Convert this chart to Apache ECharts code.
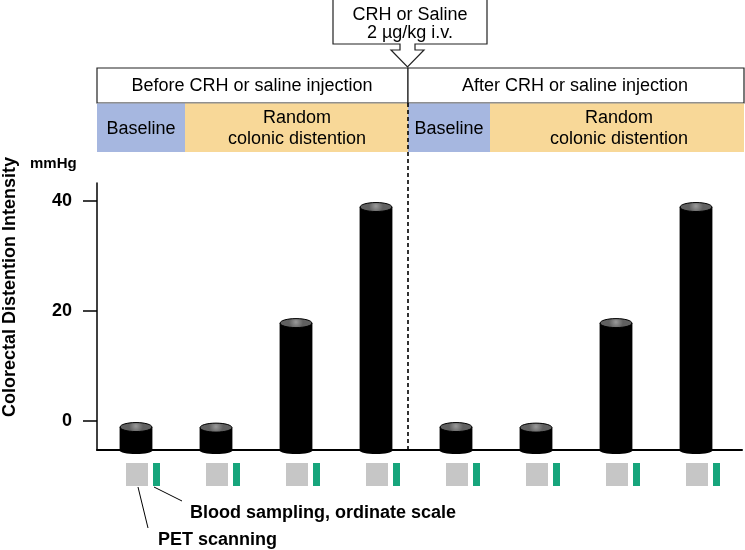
<!DOCTYPE html>
<html>
<head>
<meta charset="utf-8">
<script src="https://cdn.jsdelivr.net/npm/echarts@6/dist/echarts.min.js"></script>
<style>html,body{margin:0;padding:0;background:#fff;}#c{width:745px;height:550px;}</style>
</head>
<body>
<div id="c"></div>
<script>
// ---- data ----
const categories = ['Before 1', 'Before 2', 'Before 3', 'Before 4', 'After 1', 'After 2', 'After 3', 'After 4'];
const xPositions = [1, 2, 3, 4, 5, 6, 7, 8];
const intensityValues = [-1.1, -1.2, 17.8, 38.9, -1.1, -1.2, 17.8, 38.9];
const yTickLabels = [0, 20, 40];

const FONT = '"Liberation Sans", Arial, Helvetica, sans-serif';
const yMin = -5.27, yMax = 43.27;
const xMin = 0.5125, xMax = 8.575;
const barW = 0.41;

const seriesData = xPositions.map((x, i) => [x, intensityValues[i], categories[i]]);

const chart = echarts.init(document.getElementById('c'), null, {renderer: 'canvas'});

function txt(x, y, text, size, weight, align, extra) {
  return Object.assign({
    type: 'text', x: x, y: y,
    style: {text: text, fill: '#000', font: (weight || 'normal') + ' ' + size + 'px ' + FONT,
            textAlign: align || 'center', textVerticalAlign: 'middle'}
  }, extra || {});
}

const graphics = [
  // top box
  {type: 'rect', shape: {x: 333, y: -1, width: 154, height: 45}, style: {fill: '#fff', stroke: '#222', lineWidth: 1.2}},
  {type: 'line', shape: {x1: 400.6, y1: 44, x2: 414.4, y2: 44}, style: {stroke: '#fff', lineWidth: 2}, z: 10},
  {type: 'polygon', shape: {points: [[400, 44], [400, 50], [391, 50], [407.5, 67], [424, 50], [415, 50], [415, 44]]}, style: {fill: '#fff'}, z: 10},
  {type: 'polyline', shape: {points: [[400, 44], [400, 50], [391, 50], [407.5, 67], [424, 50], [415, 50], [415, 44]]}, style: {stroke: '#222', lineWidth: 1.2, fill: null}, z: 11},
  txt(410, 15, 'CRH or Saline', 18),
  txt(410, 33, '2 µg/kg i.v.', 18),
  // header boxes
  {type: 'rect', shape: {x: 97, y: 68, width: 311, height: 35}, style: {fill: '#fff', stroke: '#222', lineWidth: 1.2}},
  {type: 'rect', shape: {x: 408, y: 68, width: 336, height: 35}, style: {fill: '#fff', stroke: '#222', lineWidth: 1.2}},
  txt(252, 86, 'Before CRH or saline injection', 18),
  txt(575, 86, 'After CRH or saline injection', 18),
  // colored phase bands
  {type: 'rect', shape: {x: 97, y: 103.6, width: 88, height: 48.4}, style: {fill: '#a6b7e0'}},
  {type: 'rect', shape: {x: 185, y: 103.6, width: 223, height: 48.4}, style: {fill: '#f8d898'}},
  {type: 'rect', shape: {x: 408, y: 103.6, width: 82, height: 48.4}, style: {fill: '#a6b7e0'}},
  {type: 'rect', shape: {x: 490, y: 103.6, width: 254, height: 48.4}, style: {fill: '#f8d898'}},
  txt(141, 129, 'Baseline', 18),
  txt(297, 118, 'Random', 18),
  txt(297, 139, 'colonic distention', 18),
  txt(449, 129, 'Baseline', 18),
  txt(619, 118, 'Random', 18),
  txt(619, 139, 'colonic distention', 18),
  // dashed divider
  {type: 'line', shape: {x1: 408, y1: 103, x2: 408, y2: 450}, style: {stroke: '#000', lineWidth: 1.6, lineDash: [4, 3]}, z: 5},
  // unit and axis title
  txt(30, 164, 'mmHg', 15, 'bold', 'left'),
  txt(10, 287, 'Colorectal Distention Intensity', 18, 'bold', 'center', {rotation: Math.PI / 2}),
  // annotations
  {type: 'line', shape: {x1: 138, y1: 487, x2: 148, y2: 528}, style: {stroke: '#000', lineWidth: 1}},
  {type: 'line', shape: {x1: 154, y1: 487, x2: 182, y2: 501}, style: {stroke: '#000', lineWidth: 1}},
  txt(190, 513, 'Blood sampling, ordinate scale', 18, 'bold', 'left'),
  txt(158, 540, 'PET scanning', 18, 'bold', 'left')
];

const option = {
  animation: false,
  backgroundColor: '#fff',
  grid: {left: 97, right: 3, top: 183, bottom: 100, containLabel: false},
  xAxis: {
    type: 'value', min: xMin, max: xMax,
    axisLine: {show: true, onZero: false, lineStyle: {color: '#000', width: 2}},
    axisTick: {show: false}, axisLabel: {show: false}, splitLine: {show: false}
  },
  yAxis: {
    type: 'value', min: yMin, max: yMax,
    axisLine: {show: true, onZero: false, lineStyle: {color: '#000', width: 1.5}},
    axisTick: {show: true, length: 14, inside: false, customValues: yTickLabels, lineStyle: {color: '#000', width: 1.5}},
    axisLabel: {show: true, customValues: yTickLabels, margin: 25, color: '#000',
                fontSize: 18, fontWeight: 'bold', fontFamily: FONT},
    splitLine: {show: false}
  },
  graphic: graphics,
  series: [{
    type: 'custom',
    clip: false,
    data: seriesData,
    renderItem: function (params, api) {
      const x = api.value(0), v = api.value(1);
      const top = api.coord([x, v]);
      const bot = api.coord([x, yMin]);
      const w = api.size([barW, 0])[0];
      const cx = top[0], hw = w / 2;
      return {
        type: 'group',
        children: [
          {type: 'ellipse', shape: {cx: cx, cy: bot[1] + 0.5, rx: hw, ry: 3.5}, style: {fill: '#000'}},
          {type: 'rect', shape: {x: cx - hw, y: top[1], width: w, height: bot[1] - top[1] + 0.5}, style: {fill: '#000'}},
          {type: 'ellipse', shape: {cx: cx, cy: top[1], rx: hw - 0.5, ry: 4.5},
           style: {fill: new echarts.graphic.RadialGradient(0.5, 0.4, 0.7, [{offset: 0, color: '#9a9a9a'}, {offset: 1, color: '#606060'}]),
                   stroke: '#000', lineWidth: 1}},
          {type: 'rect', shape: {x: cx - 10, y: bot[1] + 13, width: 22, height: 23}, style: {fill: '#c6c6c6'}},
          {type: 'rect', shape: {x: cx + 17, y: bot[1] + 13, width: 7, height: 23}, style: {fill: '#17a57c'}}
        ]
      };
    }
  }]
};
chart.setOption(option);
</script>
</body>
</html>
